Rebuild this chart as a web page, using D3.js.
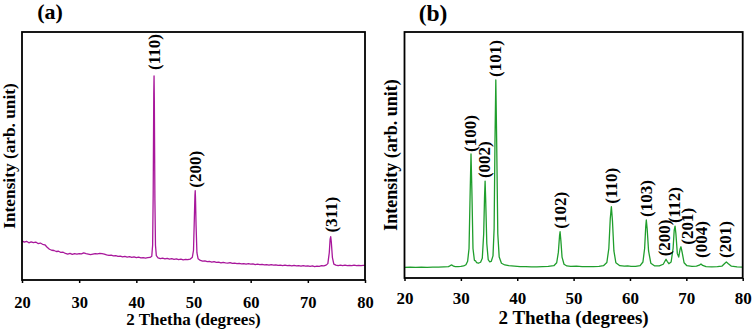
<!DOCTYPE html>
<html>
<head>
<meta charset="utf-8">
<script src="https://cdn.jsdelivr.net/npm/d3@7"></script>
<style>
  body { margin: 0; background: #fff; }
  svg { display: block; }
  .trace { fill: none; stroke-width: 1.3; stroke-linejoin: round; }
  .frame { fill: none; stroke: #000; stroke-width: 1.8; }
</style>
</head>
<body>
<script>
var WIDTH = 754;
var HEIGHT = 333;
var FONT = "'Liberation Serif', 'Times New Roman', Times, serif";

var xTicks = [20, 30, 40, 50, 60, 70, 80];

// panel (a): [2 theta, intensity]
var patternA = [
  [20,15.8],[20.4,15.3],[20.8,15.6],[21.2,15.0],[21.6,15.4],[22.0,15.1],[22.4,15.3],[22.8,14.7],
  [23.2,14.9],[23.6,14.4],[24.0,14.2],[24.4,13.2],[24.8,12.4],[25.2,12.0],[25.6,11.9],[26.0,11.5],
  [26.4,11.6],[26.8,11.1],[27.2,11.2],[27.6,10.7],[28.0,10.4],[28.4,10.7],[28.8,10.3],[29.2,10.6],
  [29.6,10.4],[30.0,10.6],[30.4,10.5],[30.8,10.9],[31.2,10.6],[31.6,10.4],[32.0,10.2],[32.4,10.4],
  [32.8,10.6],[33.2,10.5],[33.6,10.7],[34.0,10.6],[34.4,10.4],[34.8,10.1],[35.2,9.9],[35.6,10.0],
  [36.0,9.7],[36.4,9.8],[36.8,9.5],[37.2,9.6],[37.6,9.3],[38.0,9.5],[38.4,9.2],[38.8,9.4],
  [39.2,9.1],[39.6,9.3],[40.0,9.0],[40.4,9.2],[40.8,8.9],[41.2,9.0],[41.6,8.8],[42.0,9.0],
  [42.4,9.1],[42.7,9.6],[42.85,14],[42.95,35],[43.05,75],[43.1,82.3],[43.15,72],[43.25,32],
  [43.35,14],[43.5,9.8],[43.8,8.9],[44.2,8.6],[44.6,8.8],[45.0,8.5],[45.4,8.7],[45.8,8.4],
  [46.2,8.6],[46.6,8.3],[47.0,8.5],[47.4,8.2],[47.8,8.4],[48.2,8.1],[48.6,8.3],[49.0,8.2],
  [49.4,8.4],[49.8,9.2],[50.0,12],[50.15,25],[50.25,34],[50.3,36.0],[50.35,33],[50.45,22],
  [50.6,11],[50.8,8.6],[51.2,7.9],[51.6,7.6],[52.0,7.7],[52.4,7.4],[52.8,7.5],[53.2,7.2],
  [53.6,7.4],[54.0,7.1],[54.4,7.2],[54.8,6.9],[55.2,7.1],[55.6,6.9],[56.0,6.8],[56.4,7.0],
  [56.8,6.7],[57.2,6.8],[57.6,6.6],[58.0,6.7],[58.4,6.5],[58.8,6.6],[59.2,6.4],[59.6,6.6],
  [60.0,6.4],[60.4,6.5],[60.8,6.2],[61.2,6.4],[61.6,6.2],[62.0,6.3],[62.4,6.1],[62.8,6.2],
  [63.2,6.0],[63.6,6.2],[64.0,6.0],[64.4,6.1],[64.8,5.9],[65.2,6.0],[65.6,5.8],[66.0,6.0],
  [66.4,5.8],[66.8,5.9],[67.2,5.7],[67.6,5.9],[68.0,5.7],[68.4,5.8],[68.8,5.6],[69.2,5.8],
  [69.6,5.6],[70.0,5.7],[70.4,5.5],[70.8,5.7],[71.2,5.4],[71.6,5.6],[72.0,5.5],[72.4,5.8],
  [72.8,5.7],[73.2,6.0],[73.5,6.6],[73.75,11],[73.9,16.5],[74.0,17.5],[74.1,15.5],[74.3,9],
  [74.55,6.4],[74.9,6.0],[75.3,5.8],[75.7,6.0],[76.1,5.8],[76.5,6.0],[76.9,5.8],[77.3,5.9],
  [77.7,5.8],[78.1,6.0],[78.5,5.8],[78.9,5.9],[79.3,5.8],[79.7,5.9],[80,5.9]
];
var peakNamesA = ["(110)", "(200)", "(311)"];
var peakThetaA = [43.1, 50.3, 74.0];

// panel (b): [2 theta, intensity]
var patternB = [
  [20,4.3],[21,4.4],[22,4.3],[23,4.4],[24,4.3],[25,4.4],[26,4.4],[27,4.5],[27.8,4.6],[28.1,5.0],
  [28.4,5.3],[28.7,4.8],[29,4.6],[29.5,4.6],[30,4.7],[30.5,4.9],[30.9,5.4],[31.2,6.8],[31.45,12],
  [31.65,35],[31.8,50.4],[31.95,36],[32.15,12],[32.4,7.2],[32.6,7.0],[32.8,6.2],[33.1,6.0],
  [33.5,6.4],[33.8,8],[34.05,18],[34.2,33],[34.3,39.4],[34.4,32],[34.6,14],[34.85,7.5],[35.1,6.6],
  [35.4,6.8],[35.7,9],[35.9,20],[36.05,55],[36.2,80.5],[36.35,56],[36.55,18],[36.8,8.5],[37.2,6.0],
  [37.8,5.3],[38.5,5.0],[39.5,4.8],[40.5,4.6],[41.5,4.6],[42.5,4.5],[43.5,4.5],[44.5,4.6],
  [45.5,4.7],[46.5,5.0],[47.0,6.2],[47.3,10.5],[47.5,17],[47.6,18.8],[47.75,15],[47.95,8.5],
  [48.3,5.6],[48.8,4.9],[49.5,4.7],[50.5,4.8],[51.5,4.6],[52.5,4.6],[53.5,4.6],[54.5,4.7],
  [55.3,5.0],[55.9,6.3],[56.25,12],[56.5,24],[56.7,29.0],[56.9,23],[57.15,11],[57.5,6.2],
  [58.2,5.0],[59,4.8],[59.6,4.9],[60.2,4.7],[61,4.7],[61.8,5.0],[62.3,6.5],[62.6,12],[62.8,21],
  [62.9,23.6],[63.05,20],[63.3,11],[63.7,6.0],[64.4,4.9],[65.2,4.9],[65.9,5.6],[66.2,6.8],
  [66.4,7.6],[66.6,6.8],[66.9,5.8],[67.3,6.5],[67.65,12],[67.85,19.5],[68.0,21.1],[68.15,18],
  [68.4,10],[68.65,8.5],[68.9,11.8],[69.05,12.7],[69.25,10.5],[69.6,6.2],[70.1,5.0],[71,4.7],
  [71.8,4.8],[72.3,5.2],[72.6,5.7],[72.9,5.1],[73.5,4.6],[74.5,4.5],[75.5,4.6],[76.3,4.8],
  [76.8,5.9],[77.1,6.5],[77.4,5.9],[78,4.8],[79,4.5],[80,4.4]
];
var peakNamesB = ["(100)", "(002)", "(101)", "(102)", "(110)", "(103)", "(200)", "(112)", "(201)", "(004)", "(201)"];
var peakThetaB = [31.8, 34.3, 36.2, 47.6, 56.7, 62.9, 66.4, 68.0, 69.05, 72.6, 77.1];

var panels = [
  { tag: "(a)", pattern: patternA, names: peakNamesA, theta: peakThetaA, color: "#a8179b",
    left: 22, right: 365, top: 32, bottom: 280, tagX: 50, tagY: 19, tagSize: 22,
    yTitleX: 9, tickSize: 16.5, tickPad: 13, titleSize: 17, titleY: 325, yTitleSize: 17.3,
    labelSize: 17, gap: [6, 3, 4], nudge: [0, 0, 0] },
  { tag: "(b)", pattern: patternB, names: peakNamesB, theta: peakThetaB, color: "#1f9e2c",
    left: 404.5, right: 742.7, top: 32, bottom: 278, tagX: 433, tagY: 21, tagSize: 23.5,
    yTitleX: 391, tickSize: 17, tickPad: 11, titleSize: 19, titleY: 324, yTitleSize: 18,
    labelSize: 17, gap: [2, 3, 3, 3, 3, 3, 3, 3, 2, 6, 4], nudge: [-1, -1, -1, 0, 0, 0, -2, -1, 6, 0, -1] }
];

var svg = d3.select("body").append("svg")
  .attr("width", WIDTH)
  .attr("height", HEIGHT);

svg.append("rect").attr("width", WIDTH).attr("height", HEIGHT).attr("fill", "#fff");

var label = function (sel, size) {
  return sel.style("font-family", FONT)
    .style("font-weight", "bold")
    .style("font-size", size + "px")
    .style("fill", "#000");
};

panels.forEach(function (p) {
  var x = d3.scaleLinear().domain([20, 80]).range([p.left, p.right]);
  var y = d3.scaleLinear().domain([0, 100]).range([p.bottom, p.top]);

  var line = d3.line()
    .x(function (d) { return x(d[0]); })
    .y(function (d) { return y(d[1]); });

  var g = svg.append("g");

  g.append("path")
    .attr("class", "trace")
    .attr("stroke", p.color)
    .attr("d", line(p.pattern));

  g.append("rect")
    .attr("class", "frame")
    .attr("x", p.left).attr("y", p.top)
    .attr("width", p.right - p.left).attr("height", p.bottom - p.top);

  var axis = g.append("g")
    .attr("transform", "translate(0," + p.bottom + ")")
    .call(d3.axisBottom(x).tickValues(xTicks).tickSize(3).tickPadding(p.tickPad).tickFormat(d3.format("d")));
  axis.attr("font-family", null).attr("font-size", null);
  axis.select(".domain").remove();
  axis.selectAll(".tick line").attr("stroke-width", 1.5);
  label(axis.selectAll(".tick text"), p.tickSize);

  label(g.append("text"), p.titleSize)
    .attr("x", (p.left + p.right) / 2)
    .attr("y", p.titleY)
    .attr("text-anchor", "middle")
    .text("2 Thetha (degrees)");

  label(g.append("text"), p.yTitleSize)
    .attr("transform", "translate(" + p.yTitleX + "," + (p.top + p.bottom) / 2 + ") rotate(-90)")
    .attr("text-anchor", "middle")
    .attr("dy", "0.35em")
    .text("Intensity (arb. unit)");

  label(g.append("text"), p.tagSize)
    .attr("x", p.tagX).attr("y", p.tagY)
    .attr("text-anchor", "middle")
    .text(p.tag);

  // peak labels sit above the highest point near each reflection
  p.names.forEach(function (name, i) {
    var t = p.theta[i];
    var top = d3.max(p.pattern.filter(function (d) { return Math.abs(d[0] - t) <= 0.2; }), function (d) { return d[1]; });
    var px = x(t) + p.nudge[i];
    var py = y(top) - p.gap[i];
    label(g.append("text"), p.labelSize)
      .attr("transform", "translate(" + px + "," + py + ") rotate(-90)")
      .attr("text-anchor", "start")
      .attr("dy", "0.35em")
      .text(name);
  });
});
</script>
</body>
</html>
